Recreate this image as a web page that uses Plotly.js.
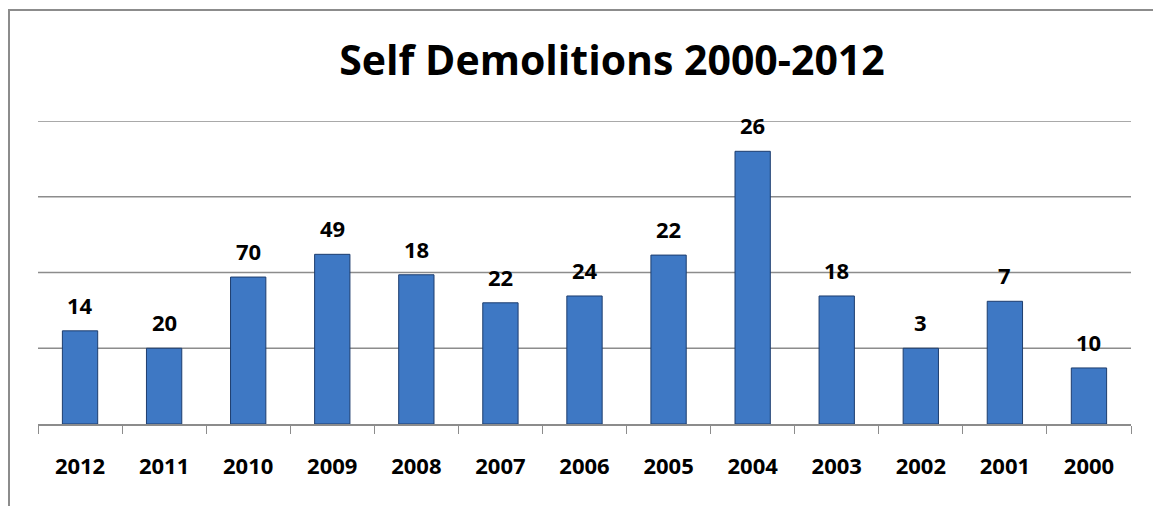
<!DOCTYPE html>
<html>
<head>
<meta charset="utf-8">
<script src="https://cdn.plot.ly/plotly-3.0.1.min.js"></script>
<style>
  html, body { margin: 0; padding: 0; background: #fff; }
  #chart { width: 1153px; height: 506px; position: relative; }
  #frame { position: absolute; left: 8px; top: 9px; width: 1145px; height: 497px;
           border-left: 2px solid #8c8c8c; border-top: 2px solid #8c8c8c; pointer-events: none; }
</style>
</head>
<body>
<div id="chart"></div>
<div id="frame"></div>
<script>
// Categories (years) as shown, left to right
const years = ["2012","2011","2010","2009","2008","2007","2006","2005","2004","2003","2002","2001","2000"];
// Bar heights as drawn (in gridline units)
const barHeights = [1.23, 1.00, 1.94, 2.24, 1.97, 1.60, 1.69, 2.23, 3.60, 1.69, 1.00, 1.62, 0.74];
// Data labels as printed above the bars
const barLabels = ["14","20","70","49","18","22","24","22","26","18","3","7","10"];
// Gridline levels
const gridLevels = [1, 2, 3, 4];

const fontFam = "'Open Sans', 'Liberation Sans', sans-serif";

const trace = {
  type: "bar",
  x: years,
  y: barHeights,
  width: 0.42,
  marker: {
    color: "#3e78c4",
    line: { color: "#1d3d6e", width: 1 }
  },
  hoverinfo: "skip"
};

const annotations = years.map((yr, i) => ({
  x: i,
  y: barHeights[i],
  xref: "x",
  yref: "y",
  text: "<b>" + barLabels[i] + "</b>",
  showarrow: false,
  yanchor: "middle",
  yshift: 26,
  font: { family: fontFam, size: 22, color: "#000" }
}));

const gridShapes = gridLevels.map(v => ({
  type: "line",
  xref: "paper", yref: "y",
  x0: 0, x1: 1, y0: v, y1: v,
  line: { color: "#8c8c8c", width: 1.4 },
  layer: "below"
}));

const layout = {
  width: 1153,
  height: 506,
  margin: { l: 38, r: 22, t: 121, b: 82 },
  paper_bgcolor: "#ffffff",
  plot_bgcolor: "#ffffff",
  title: {
    text: "<b>Self Demolitions 2000-2012</b>",
    font: { family: fontFam, size: 41, color: "#000" },
    x: 612 / 1153,
    xanchor: "center",
    y: 1 - 61 / 506,
    yanchor: "middle"
  },
  showlegend: false,
  xaxis: {
    type: "category",
    categoryorder: "array",
    categoryarray: years,
    range: [-0.5, years.length - 0.5],
    tickson: "boundaries",
    ticks: "outside",
    ticklen: 8,
    tickcolor: "#8c8c8c",
    tickwidth: 1,
    showline: true,
    linecolor: "#8c8c8c",
    linewidth: 1.5,
    showgrid: false,
    tickangle: 0,
    ticklabelstandoff: 22,
    tickfont: { family: fontFam, size: 22, color: "#000", weight: "bold" },
    fixedrange: true
  },
  yaxis: {
    range: [0, 4],
    showticklabels: false,
    ticks: "",
    showgrid: false,
    zeroline: false,
    showline: false,
    fixedrange: true
  },
  shapes: gridShapes,
  annotations: annotations
};

Plotly.newPlot("chart", [trace], layout, { displayModeBar: false, staticPlot: true });
</script>
</body>
</html>
